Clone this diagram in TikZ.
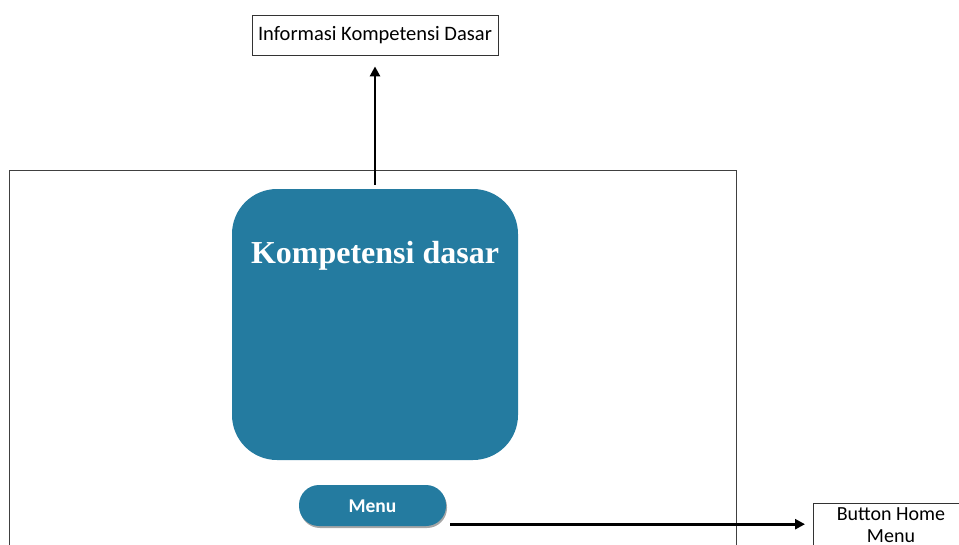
\documentclass[tikz,border=0pt]{standalone}
\usepackage{fontspec}
\setmainfont{Carlito}
\newfontfamily\kdfont{Liberation Serif}
\usetikzlibrary{arrows.meta,shadows,calc}
\definecolor{teal1}{RGB}{36,123,160}
\begin{document}
\begin{tikzpicture}[x=1pt,y=-1pt,
  label box/.style={draw=black!80,line width=0.8pt,fill=white,inner sep=0pt,font=\fontsize{20.5}{22}\selectfont},
  conn/.style={line width=2.8pt,-{Triangle[length=10pt,width=10pt]}},
  tealfill/.style={fill=teal1,draw=none}]
\path[use as bounding box] (0,0) rectangle (959,544);
\clip (0,0) rectangle (959,544);
% frame
\draw[draw=black!75,line width=0.8pt] (9,600) -- (9,170) -- (736,170) -- (736,600);
% info box
\node[label box,minimum width=246pt,minimum height=40pt] (info) at (375,35) {Informasi Kompetensi Dasar};
% big rounded box
\node[tealfill,rounded corners=45pt,minimum width=286pt,minimum height=271pt,inner sep=0pt] (kd) at (375,324.5) {};
\node[text=white,font=\kdfont\bfseries\fontsize{32}{34}\selectfont] (kdt) at (375,256) {Kompetensi dasar};
% menu pill
\node[tealfill,rounded corners=20pt,minimum width=147pt,minimum height=41pt,inner sep=0pt,
  drop shadow={shadow xshift=1pt,shadow yshift=-2pt,opacity=0.35,fill=black}] (menu) at (372.5,505.5) {};
\node[text=white,font=\bfseries\fontsize{19.5}{21}\selectfont] (menut) at (372.5,506) {Menu};
% home box
\node[label box,anchor=north west,minimum width=146pt,minimum height=50pt] (home) at (813,503) {};
\node[anchor=north,inner sep=0pt,align=center,font=\fontsize{20}{22}\selectfont] (homet) at (891,507) {Button Home\\Menu};
% connectors
\coordinate (kdtop) at ($(kd.north)+(0,-4)$);
\draw[conn,shorten >=11pt] (kdtop) -- (info.south);
\coordinate (mstart) at ($(menu.south east)+(4,-2)$);
\draw[conn,shorten >=8pt] (mstart) -- (home.west |- mstart);
\end{tikzpicture}
\end{document}
